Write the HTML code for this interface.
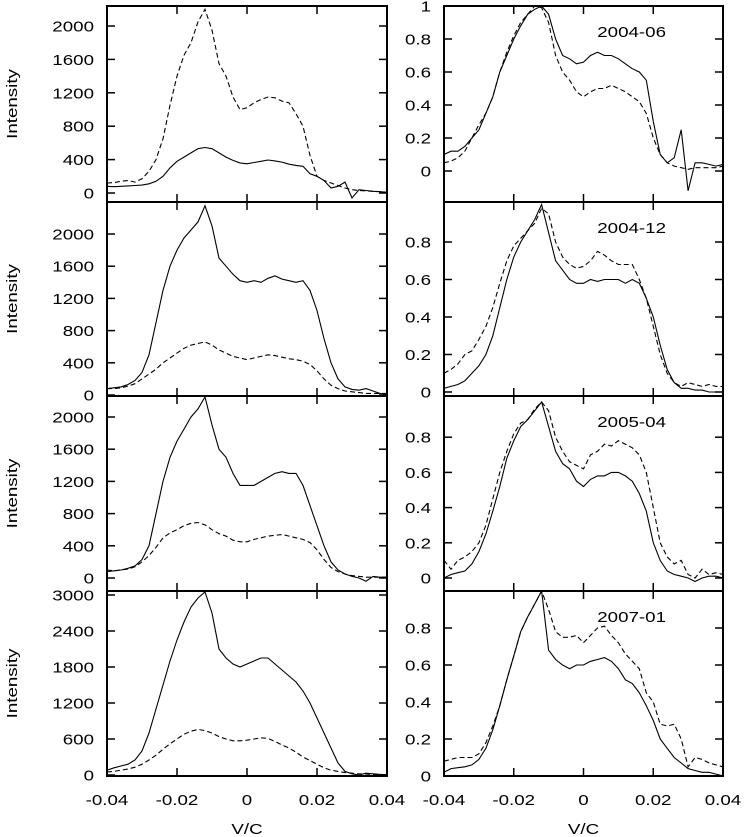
<!DOCTYPE html>
<html><head><meta charset="utf-8"><style>
body{margin:0;background:#fff}
svg{display:block;font-family:"Liberation Sans",Arial,sans-serif}
</style></head><body>
<svg id="chart" width="746" height="837" viewBox="0 0 746 837"></svg>
<script>
const vGrid=[-0.04,-0.038,-0.036,-0.034,-0.032,-0.03,-0.028,-0.026,-0.024,-0.022,-0.02,-0.018,-0.016,-0.014,-0.012,-0.01,-0.008,-0.006,-0.004,-0.002,0,0.002,0.004,0.006,0.008,0.01,0.012,0.014,0.016,0.018,0.02,0.022,0.024,0.026,0.028,0.03,0.032,0.034,0.036,0.038,0.04];
const xTicks=[-0.04,-0.02,0,0.02,0.04];
const xTickLabels=["-0.04","-0.02","0","0.02","0.04"];
const dates=["2004-06","2004-12","2005-04","2007-01"];
const r1LSolid=[80,75,80,85,90,95,110,140,200,300,380,430,480,530,545,530,480,430,390,360,350,365,380,395,385,370,345,330,320,230,200,150,60,80,130,-60,40,30,20,15,10];
const r1LDash=[120,125,140,150,130,170,260,400,650,1050,1400,1650,1800,2050,2200,1950,1550,1400,1150,1000,1020,1080,1120,1150,1140,1100,1080,950,800,450,200,150,120,90,60,40,30,25,20,15,10];
const r1RSolid=[0.1,0.12,0.12,0.15,0.2,0.25,0.35,0.45,0.6,0.7,0.8,0.88,0.95,0.98,1.0,0.95,0.8,0.7,0.68,0.65,0.66,0.7,0.72,0.7,0.7,0.68,0.65,0.62,0.6,0.55,0.3,0.1,0.05,0.08,0.25,-0.12,0.05,0.05,0.04,0.03,0.04];
const r1RDash=[0.05,0.06,0.08,0.12,0.2,0.28,0.35,0.45,0.6,0.72,0.82,0.9,0.95,1.0,0.99,0.9,0.7,0.6,0.55,0.48,0.45,0.48,0.5,0.5,0.52,0.5,0.48,0.45,0.42,0.35,0.2,0.1,0.05,0.03,0.02,0.01,0.02,0.02,0.02,0.02,0.03];
const r2LSolid=[80,90,100,130,180,280,500,900,1300,1600,1800,1950,2050,2150,2350,2100,1700,1600,1500,1420,1400,1420,1400,1450,1480,1440,1420,1400,1420,1300,1050,700,400,200,100,70,60,80,50,20,10];
const r2LDash=[80,80,90,110,140,200,260,320,400,460,520,580,620,640,660,620,560,520,480,460,440,460,480,500,490,470,450,440,420,380,300,200,120,80,50,40,30,20,20,20,20];
const r2RSolid=[0.02,0.03,0.04,0.06,0.1,0.14,0.2,0.3,0.45,0.6,0.72,0.8,0.86,0.92,1.0,0.85,0.7,0.65,0.6,0.58,0.58,0.6,0.59,0.6,0.6,0.6,0.58,0.6,0.58,0.5,0.4,0.25,0.12,0.05,0.02,0.02,0.01,0.01,0,0,0];
const r2RDash=[0.1,0.12,0.15,0.2,0.22,0.28,0.35,0.45,0.58,0.7,0.78,0.82,0.86,0.9,0.98,0.95,0.8,0.72,0.68,0.66,0.67,0.7,0.75,0.73,0.7,0.68,0.68,0.68,0.6,0.5,0.35,0.2,0.1,0.05,0.03,0.05,0.04,0.03,0.04,0.03,0.03];
const r3LSolid=[80,90,100,120,150,230,400,800,1200,1500,1700,1850,2000,2100,2250,1900,1600,1500,1300,1150,1150,1150,1200,1250,1300,1320,1300,1300,1150,900,650,400,200,100,50,20,0,-40,20,10,10];
const r3LDash=[100,90,100,110,140,200,280,380,500,560,600,650,680,690,660,600,550,520,470,450,450,480,500,520,530,540,520,500,480,440,350,230,130,80,50,30,20,10,10,10,10];
const r3RSolid=[0,0.02,0.03,0.04,0.08,0.15,0.25,0.38,0.52,0.68,0.78,0.86,0.9,0.95,1.0,0.86,0.72,0.65,0.62,0.55,0.52,0.56,0.58,0.58,0.6,0.6,0.58,0.55,0.48,0.38,0.2,0.1,0.04,0.02,0.01,0,-0.02,0,0.01,0.01,0];
const r3RDash=[0.1,0.05,0.1,0.12,0.15,0.2,0.3,0.45,0.6,0.72,0.82,0.88,0.9,0.96,1.0,0.95,0.8,0.72,0.66,0.64,0.62,0.7,0.72,0.76,0.75,0.78,0.76,0.74,0.7,0.6,0.4,0.2,0.12,0.08,0.1,0.02,0,0.05,0.02,0.03,0.02];
const r4LSolid=[80,120,150,180,250,400,700,1100,1500,1900,2250,2550,2800,2950,3050,2700,2100,1950,1850,1800,1850,1900,1950,1950,1850,1750,1650,1550,1400,1200,950,700,450,200,60,20,0,30,20,10,0];
const r4LDash=[50,60,80,100,130,180,250,330,430,520,600,680,730,760,740,700,640,600,570,570,580,600,620,610,560,500,450,380,300,240,180,120,80,60,40,30,20,15,10,10,5];
const r4RSolid=[0.02,0.04,0.045,0.05,0.06,0.09,0.15,0.25,0.38,0.52,0.65,0.78,0.86,0.93,1.0,0.68,0.63,0.6,0.58,0.6,0.6,0.62,0.63,0.64,0.62,0.58,0.52,0.5,0.45,0.38,0.3,0.2,0.15,0.1,0.07,0.04,0.03,0.02,0.02,0.01,0];
const r4RDash=[0.08,0.09,0.1,0.1,0.1,0.12,0.18,0.27,0.38,0.52,0.65,0.78,0.86,0.93,1.0,0.9,0.78,0.75,0.75,0.76,0.72,0.76,0.8,0.81,0.76,0.72,0.66,0.62,0.58,0.45,0.4,0.28,0.27,0.28,0.2,0.05,0.1,0.09,0.07,0.06,0.05];
const leftTicksA=[0,400,800,1200,1600,2000];
const leftTicksB=[0,600,1200,1800,2400,3000];
const rightTicksA=[0,0.2,0.4,0.6,0.8,1];
const rightTicksB=[0,0.2,0.4,0.6,0.8];

const svg=document.getElementById('chart');
const NS='http://www.w3.org/2000/svg';
function mk(tag,attrs,parent){const e=document.createElementNS(NS,tag);for(const k in attrs)e.setAttribute(k,attrs[k]);(parent||svg).appendChild(e);return e;}
function txt(parent,x,y,anchor,str,rot){
  const g=mk('g',{transform:'translate('+x+','+y+')'+(rot?' rotate(-90)':'')+' scale(1.25,1)'},parent);
  const t=mk('text',{x:0,y:0,'text-anchor':anchor,'font-size':15},g);t.textContent=str;return t;
}
const rows=[{top:6,bot:202,L:{y0:193,k:167/2000,t:leftTicksA,s:r1LSolid,d:r1LDash},R:{y0:171,k:165,t:rightTicksA,s:r1RSolid,d:r1RDash}},
{top:202,bot:396,L:{y0:395,k:161/2000,t:leftTicksA,s:r2LSolid,d:r2LDash},R:{y0:392,k:187.5,t:rightTicksB,s:r2RSolid,d:r2RDash}},
{top:396,bot:591,L:{y0:578,k:161/2000,t:leftTicksA,s:r3LSolid,d:r3LDash},R:{y0:578,k:176,t:rightTicksB,s:r3RSolid,d:r3RDash}},
{top:591,bot:776,L:{y0:775,k:180/3000,t:leftTicksB,s:r4LSolid,d:r4LDash},R:{y0:776,k:185,t:rightTicksB,s:r4RSolid,d:r4RDash}}];
const cols={L:{x0:107,x1:387,lab:94},R:{x0:444,x1:723,lab:431}};
rows.forEach((row,ri)=>{
  ['L','R'].forEach(c=>{
    const p=row[c],col=cols[c];
    const xs=v=>col.x0+(v+0.04)/0.08*(col.x1-col.x0);
    const ys=v=>p.y0-v*p.k;
    const g=mk('g',{});
    
    
    const cid='clip'+ri+c;
    const cp=mk('clipPath',{id:cid},g);mk('rect',{x:col.x0,y:row.top,width:col.x1-col.x0,height:row.bot-row.top},cp);
    [['s','none'],['d','5,3']].forEach(([key,dash])=>{
      const pts=p[key].map((v,i)=>xs(vGrid[i]).toFixed(1)+','+ys(v).toFixed(1)).join(' ');
      const pl=mk('polyline',{points:pts,fill:'none',stroke:'#000','stroke-width':1.1,'stroke-dasharray':dash,'clip-path':'url(#'+cid+')'},g);
      
      
    });
    p.t.forEach(t=>{const y=ys(t);
      mk('line',{x1:col.x0,x2:col.x0+8,y1:y,y2:y,stroke:'#000','stroke-width':1.5},g);
      mk('line',{x1:col.x1-8,x2:col.x1,y1:y,y2:y,stroke:'#000','stroke-width':1.5},g);
      const tx=txt(g,col.lab,y+5.5,'end',String(t));
      
      
    });
    xTicks.slice(1,4).forEach(v=>{const x=xs(v);
      mk('line',{x1:x,x2:x,y1:row.top,y2:row.top+8,stroke:'#000','stroke-width':1.5},g);
      mk('line',{x1:x,x2:x,y1:row.bot-8,y2:row.bot,stroke:'#000','stroke-width':1.5},g);
    });
    mk('rect',{x:col.x0,y:row.top,width:col.x1-col.x0,height:row.bot-row.top,fill:'none',stroke:'#000','stroke-width':2},g);
    if(ri===3){xTicks.forEach((v,i)=>{const t=txt(g,xs(v),805,'middle',xTickLabels[i]);
      
      });
      const xt=txt(g,(col.x0+col.x1)/2,834,'middle','V/C');
      
      }
    if(c==='R'){const dl=txt(g,666,row.top+31,'end',dates[ri]);
      
      }
    if(c==='L'){const my=(row.top+row.bot)/2;const yl=txt(g,17,my,'middle','Intensity',true);
      
      }
  });
});
</script>
</body></html>
